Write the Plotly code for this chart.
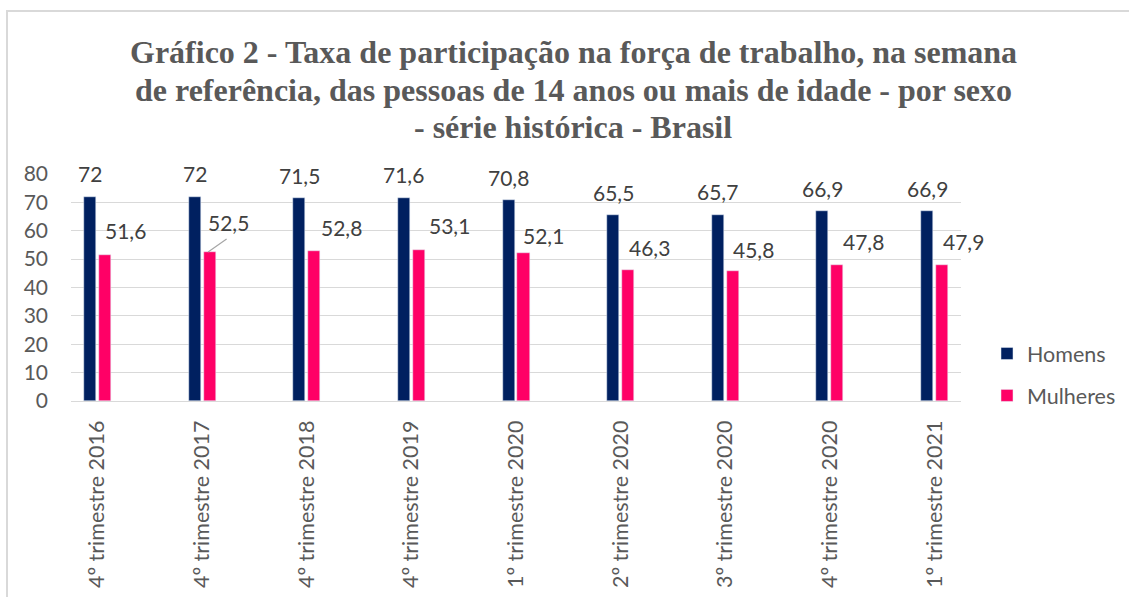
import plotly.graph_objects as go

categories = ["4º trimestre 2016", "4º trimestre 2017", "4º trimestre 2018",
              "4º trimestre 2019", "1º trimestre 2020", "2º trimestre 2020",
              "3º trimestre 2020", "4º trimestre 2020", "1º trimestre 2021"]
homens = [72, 72, 71.5, 71.6, 70.8, 65.5, 65.7, 66.9, 66.9]
mulheres = [51.6, 52.5, 52.8, 53.1, 52.1, 46.3, 45.8, 47.8, 47.9]
y_ticks = [0, 10, 20, 30, 40, 50, 60, 70, 80]
title_lines = ["Gráfico 2 - Taxa de participação na força de trabalho, na semana",
               "de referência, das pessoas de 14 anos ou mais de idade - por sexo",
               "- série histórica - Brasil"]

# styling
C_H = "#002060"
C_M = "#FF0066"
GRAY = "#595959"
LABEL = "#404040"
SANS = "Lato, 'Open Sans', sans-serif"
SERIF = "'Liberation Serif', 'Times New Roman', serif"
BAR_W = 0.115
OFF_H = -0.129
OFF_M = 0.014
m_label_dx = [21, 19, 27, 31, 20, 21, 21, 26, 21]
m_label_dy = [-24, -30, -24, -25, -18, -22, -22, -24, -24]
leader_idx = 1
leader_tail = (20, -14)
title_line_y = [52, 90, 127]   # pixel centres from top

W, H = 1129, 597
L, R, T, B = 71, 168, 174, 196

def fmt(v):
    s = ("%.1f" % v).rstrip("0").rstrip(".")
    return s.replace(".", ",")

fig = go.Figure()
fig.add_trace(go.Bar(name="Homens", x=categories, y=homens, marker_color=C_H,
                     width=BAR_W, offset=OFF_H, legendgroup="h"))
fig.add_trace(go.Bar(name="Mulheres", x=categories, y=mulheres, marker_color=C_M,
                     width=BAR_W, offset=OFF_M, legendgroup="m"))

ann = []
for i, v in enumerate(homens):
    ann.append(dict(x=i + OFF_H + BAR_W / 2, y=v, xref="x", yref="y",
                    text=fmt(v), showarrow=False, yshift=23,
                    font=dict(family=SANS, size=21, color=LABEL)))
for i, v in enumerate(mulheres):
    xc = i + OFF_M + BAR_W / 2
    ann.append(dict(x=xc, y=v, xref="x", yref="y", text=fmt(v),
                    showarrow=False, xshift=m_label_dx[i], yshift=-m_label_dy[i],
                    font=dict(family=SANS, size=21, color=LABEL)))
    if i == leader_idx:
        ann.append(dict(x=xc, y=v, xref="x", yref="y", text="",
                        showarrow=True, arrowhead=0, arrowwidth=1.2,
                        arrowcolor="#A6A6A6", ax=leader_tail[0], ay=leader_tail[1],
                        axref="pixel", ayref="pixel", standoff=0, xshift=-1.5))

pw = W - L - R
ph = H - T - B
for line, py in zip(title_lines, title_line_y):
    ann.append(dict(text="<b>%s</b>" % line, xref="paper", yref="paper",
                    x=(573 - L) / pw, y=(H - B - py) / ph,
                    xanchor="center", yanchor="middle", showarrow=False,
                    font=dict(family=SERIF, size=32, color=GRAY)))

frame = dict(type="rect", xref="paper", yref="paper",
             x0=(7 - L) / pw, x1=(W + 10 - L) / pw,
             y0=(H - B - (H + 10)) / ph, y1=(H - B - 11) / ph,
             line=dict(color="#D9D9D9", width=2), fillcolor="rgba(0,0,0,0)",
             layer="below")

fig.update_layout(
    width=W, height=H,
    margin=dict(l=L, r=R, t=T, b=B, autoexpand=False),
    paper_bgcolor="white", plot_bgcolor="white",
    barmode="overlay",
    bargap=0,
    showlegend=True,
    legend=dict(x=(987 - L) / pw, xanchor="left", y=(H - B - 333) / ph, yanchor="top",
                font=dict(family=SANS, size=21.5, color=GRAY),
                tracegroupgap=11, bgcolor="rgba(0,0,0,0)"),
    xaxis=dict(type="category", range=[-0.253, 8.253], tickangle=-90,
               tickfont=dict(family=SANS, size=21.5, color=GRAY),
               showgrid=False, showline=True, linecolor="#D9D9D9", linewidth=1,
               ticks="", ticklabelstandoff=10, zeroline=False, automargin=False),
    yaxis=dict(range=[0, 80], tickvals=y_ticks, showgrid=True, gridcolor="#D9D9D9",
               gridwidth=1, tickfont=dict(family=SANS, size=21, color=GRAY),
               showline=False, zeroline=False, ticks="", ticklabelstandoff=22,
               automargin=False),
    annotations=ann,
    shapes=[frame],
    font=dict(family=SANS, color=GRAY),
)
fig.write_html("out.html", config={"displayModeBar": False},
               post_script="document.body.style.margin='0';document.body.style.overflow='hidden';")
